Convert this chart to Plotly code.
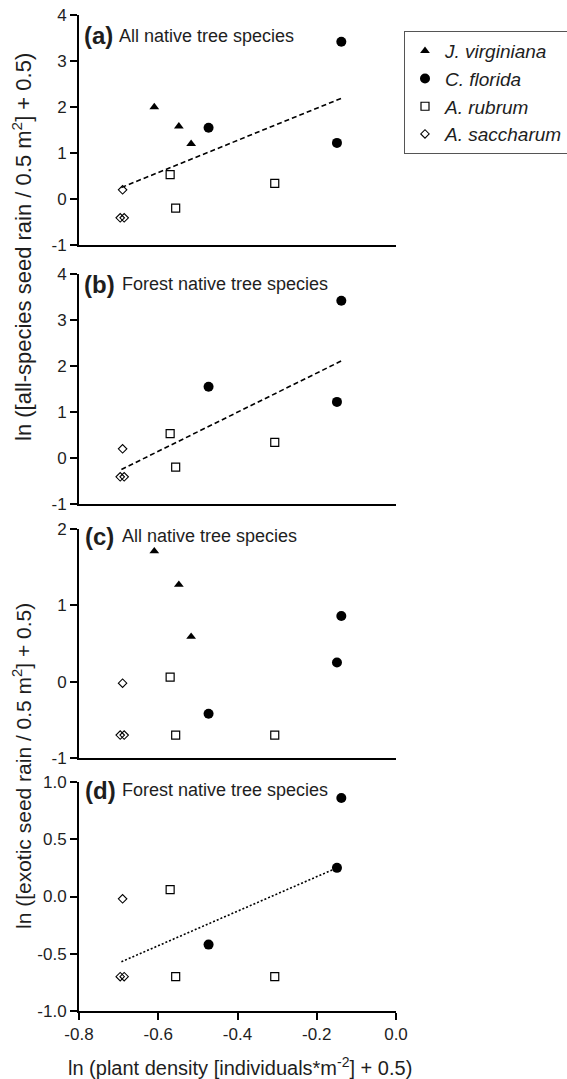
import plotly.graph_objects as go

W, H = 567, 1079

# ---------------- data ----------------
x_range = [-0.8, 0.0]
x_tickvals = [-0.8, -0.6, -0.4, -0.2, 0.0]
x_ticktext = ["-0.8", "-0.6", "-0.4", "-0.2", "0.0"]

y_ticks_ab = [-1, 0, 1, 2, 3, 4]
y_ticktext_ab = ["-1", "0", "1", "2", "3", "4"]
y_ticks_c = [-1, 0, 1, 2]
y_ticktext_c = ["-1", "0", "1", "2"]
y_ticks_d = [-1.0, -0.5, 0.0, 0.5, 1.0]
y_ticktext_d = ["-1.0", "-0.5", "0.0", "0.5", "1.0"]

species = ["J. virginiana", "C. florida", "A. rubrum", "A. saccharum"]

# J. virginiana (only in panels a, c)
jv_x = [-0.610, -0.548, -0.517]
jv_a = [2.00, 1.58, 1.20]
jv_c = [1.71, 1.27, 0.59]

# C. florida
cf_x = [-0.473, -0.138, -0.149]
cf_ab = [1.55, 3.42, 1.22]
cf_cd = [-0.42, 0.86, 0.25]

# A. rubrum
ar_x = [-0.570, -0.556, -0.306]
ar_ab = [0.53, -0.20, 0.34]
ar_cd = [0.06, -0.70, -0.70]

# A. saccharum
as_x = [-0.690, -0.696, -0.686]
as_ab = [0.20, -0.41, -0.41]
as_cd = [-0.02, -0.70, -0.70]

# regression lines
fit_ab_x = [-0.693, -0.138]
fit_a_y = [0.25, 2.19]
fit_b_y = [-0.25, 2.11]
fit_d_x = [-0.693, -0.149]
fit_d_y = [-0.57, 0.25]

panel_letters = ["(a)", "(b)", "(c)", "(d)"]
panel_titles = ["All native tree species", "Forest native tree species",
                "All native tree species", "Forest native tree species"]
ytitle_top = "ln ([all-species seed rain / 0.5 m<sup>2</sup>] + 0.5)"
ytitle_bot = "ln ([exotic seed rain / 0.5 m<sup>2</sup>] + 0.5)"
xtitle = "ln (plant density [individuals*m<sup>-2</sup>] + 0.5)"

# ---------------- layout helpers ----------------
FONT = "Liberation Sans, Arial, sans-serif"
TXT = "#1e1e1e"

def px_x(p):
    return p / W

def px_y(p):
    return 1 - p / H

# panel pixel boxes (top, bottom)
panels_px = [(15, 245), (274, 504), (529, 758), (782, 1011)]
x_dom = [px_x(79), px_x(396)]

marker_styles = {
    "J. virginiana": dict(symbol="triangle-up", size=8.5, color="black"),
    "C. florida": dict(symbol="circle", size=10, color="black"),
    "A. rubrum": dict(symbol="square-open", size=8, color="black", line=dict(width=1.2, color="black")),
    "A. saccharum": dict(symbol="diamond-open", size=6.5, color="black", line=dict(width=1.1, color="black")),
}

fig = go.Figure()

def add_pts(xs, ys, name, k, show):
    xa = "x" if k == 1 else f"x{k}"
    ya = "y" if k == 1 else f"y{k}"
    fig.add_trace(go.Scatter(x=xs, y=ys, mode="markers", name=f"<i>{name}</i>",
                             marker=marker_styles[name], xaxis=xa, yaxis=ya,
                             showlegend=show, cliponaxis=False))

def add_line(xs, ys, k, dash):
    xa = "x" if k == 1 else f"x{k}"
    ya = "y" if k == 1 else f"y{k}"
    fig.add_trace(go.Scatter(x=xs, y=ys, mode="lines", line=dict(color="black", width=1.6, dash=dash),
                             xaxis=xa, yaxis=ya, showlegend=False, hoverinfo="skip"))

# panel a
add_line(fit_ab_x, fit_a_y, 1, "5px,3px")
add_pts(jv_x, jv_a, species[0], 1, True)
add_pts(cf_x, cf_ab, species[1], 1, True)
add_pts(ar_x, ar_ab, species[2], 1, True)
add_pts(as_x, as_ab, species[3], 1, True)
# panel b
add_line(fit_ab_x, fit_b_y, 2, "5px,3px")
add_pts(cf_x, cf_ab, species[1], 2, False)
add_pts(ar_x, ar_ab, species[2], 2, False)
add_pts(as_x, as_ab, species[3], 2, False)
# panel c
add_pts(jv_x, jv_c, species[0], 3, False)
add_pts(cf_x, cf_cd, species[1], 3, False)
add_pts(ar_x, ar_cd, species[2], 3, False)
add_pts(as_x, as_cd, species[3], 3, False)
# panel d
add_line(fit_d_x, fit_d_y, 4, "2px,2px")
add_pts(cf_x, cf_cd, species[1], 4, False)
add_pts(ar_x, ar_cd, species[2], 4, False)
add_pts(as_x, as_cd, species[3], 4, False)

y_ranges = [[-1, 4], [-1, 4], [-1, 2], [-1, 1]]
y_tv = [y_ticks_ab, y_ticks_ab, y_ticks_c, y_ticks_d]
y_tt = [y_ticktext_ab, y_ticktext_ab, y_ticktext_c, y_ticktext_d]

layout = dict(
    width=W, height=H,
    margin=dict(l=0, r=0, t=0, b=0, autoexpand=False),
    paper_bgcolor="white", plot_bgcolor="white",
    font=dict(family=FONT, color=TXT, size=17),
    legend=dict(x=px_x(404), y=px_y(31), xanchor="left", yanchor="top",
                bordercolor="#555555", borderwidth=1, bgcolor="white",
                font=dict(family=FONT, size=19, color=TXT),
                tracegroupgap=0, itemsizing="trace"),
)

for i in range(4):
    k = i + 1
    xn = "xaxis" if k == 1 else f"xaxis{k}"
    yn = "yaxis" if k == 1 else f"yaxis{k}"
    top, bot = panels_px[i]
    last = (k == 4)
    layout[xn] = dict(
        domain=x_dom, range=x_range, anchor="y" if k == 1 else f"y{k}",
        showline=True, linecolor="black", linewidth=2, showgrid=False, zeroline=False,
        ticks="outside" if last else "", ticklen=7, tickwidth=1.5, tickcolor="black",
        tickvals=x_tickvals, ticktext=x_ticktext, showticklabels=last,
        tickfont=dict(size=17, color=TXT, family=FONT), automargin=False,
    )
    layout[yn] = dict(
        domain=[px_y(bot), px_y(top)], range=y_ranges[i], anchor="x" if k == 1 else f"x{k}",
        showline=True, linecolor="black", linewidth=2, showgrid=False, zeroline=False,
        ticks="outside", ticklen=7, tickwidth=1.5, tickcolor="black",
        tickvals=y_tv[i], ticktext=y_tt[i],
        tickfont=dict(size=17, color=TXT, family=FONT), automargin=False,
    )

fig.update_layout(**layout)

# panel labels
letter_pos = [(82, 36), (82, 284), (83, 536), (83, 790)]
title_pos = [(117, 36), (119.5, 284), (119.5, 536), (119.5, 790)]
for i in range(4):
    lx, ly = letter_pos[i]
    tx, ty = title_pos[i]
    fig.add_annotation(x=px_x(lx), y=px_y(ly), xref="paper", yref="paper",
                       text=f"<b>{panel_letters[i]}</b>", showarrow=False,
                       xanchor="left", yanchor="middle",
                       font=dict(family=FONT, size=24, color=TXT))
    fig.add_annotation(x=px_x(tx), y=px_y(ty), xref="paper", yref="paper",
                       text=panel_titles[i], showarrow=False,
                       xanchor="left", yanchor="middle",
                       font=dict(family=FONT, size=18, color=TXT))

# axis titles
fig.add_annotation(x=px_x(22), y=px_y(247), xref="paper", yref="paper",
                   text=ytitle_top, showarrow=False, textangle=-90,
                   xanchor="center", yanchor="middle",
                   font=dict(family=FONT, size=22, color=TXT))
fig.add_annotation(x=px_x(22), y=px_y(766), xref="paper", yref="paper",
                   text=ytitle_bot, showarrow=False, textangle=-90,
                   xanchor="center", yanchor="middle",
                   font=dict(family=FONT, size=21, color=TXT))
fig.add_annotation(x=px_x(240), y=px_y(1066), xref="paper", yref="paper",
                   text=xtitle, showarrow=False,
                   xanchor="center", yanchor="middle",
                   font=dict(family=FONT, size=20, color=TXT))

fig.write_html("out.html")
